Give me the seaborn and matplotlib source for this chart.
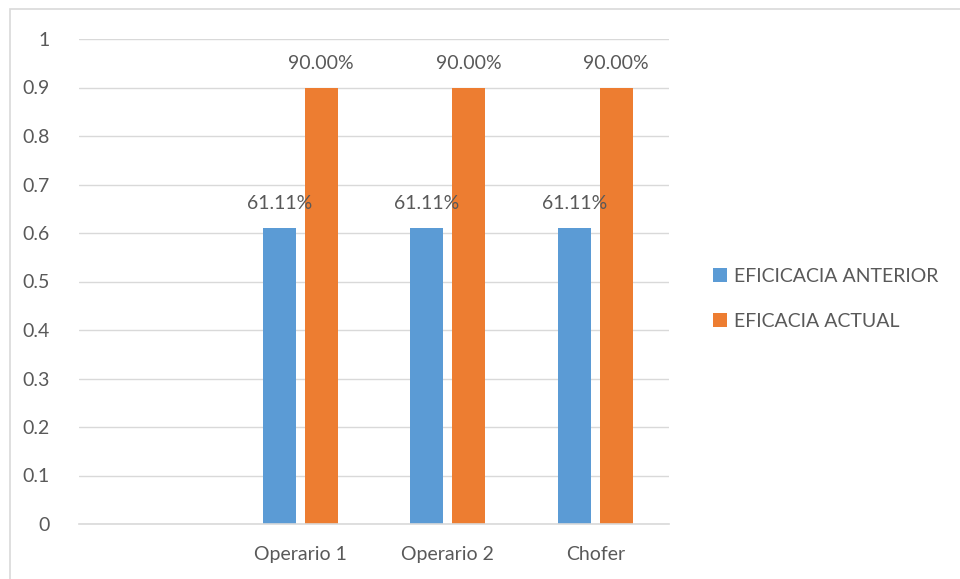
import numpy as np
import pandas as pd
import matplotlib
matplotlib.use("Agg")
import matplotlib.pyplot as plt
import seaborn as sns
from matplotlib.patches import Rectangle

categories = ["", "Operario 1", "Operario 2", "Chofer"]
anterior = [np.nan, 0.6111, 0.6111, 0.6111]
actual = [np.nan, 0.90, 0.90, 0.90]
series_names = ["EFICICACIA ANTERIOR", "EFICACIA ACTUAL"]
yticks = [0, 0.1, 0.2, 0.3, 0.4, 0.5, 0.6, 0.7, 0.8, 0.9, 1]
ytick_labels = ["0", "0.1", "0.2", "0.3", "0.4", "0.5", "0.6", "0.7", "0.8", "0.9", "1"]

df = pd.DataFrame({
    "cat": categories * 2,
    "serie": [series_names[0]] * 4 + [series_names[1]] * 4,
    "val": anterior + actual,
})

sns.set_theme(style="white")
plt.rcParams["font.family"] = ["Lato", "DejaVu Sans"]
txt = "#595959"

fig = plt.figure(figsize=(9.6, 5.79), dpi=100)
ax = fig.add_axes([79/960, 55/579, 590/960, 485/579])

sns.barplot(data=df, x="cat", y="val", hue="serie", order=categories,
            hue_order=series_names, palette=["#5B9BD5", "#ED7D31"],
            saturation=1, linewidth=0, width=0.57, gap=0.21, ax=ax, legend=True)

for cont in ax.containers:
    labels = [("" if np.isnan(v) else "{:.2%}".format(v)) for v in cont.datavalues]
    ax.bar_label(cont, labels=labels, padding=11, fontsize=14, color=txt)

ax.set_xlim(-0.5, 3.5)
ax.set_ylim(0, 1)
ax.set_yticks(yticks)
ax.set_yticklabels(ytick_labels)
ax.set_xlabel("")
ax.set_ylabel("")
ax.yaxis.grid(True, color="#D9D9D9", linewidth=1)
ax.set_axisbelow(True)
for s in ["top", "right", "left"]:
    ax.spines[s].set_visible(False)
ax.spines["bottom"].set_color("#D9D9D9")
ax.spines["bottom"].set_linewidth(1.2)
ax.tick_params(axis="both", length=0, labelsize=14, labelcolor=txt)
ax.tick_params(axis="y", pad=21)
ax.tick_params(axis="x", pad=16)

leg = ax.legend(loc="center left", bbox_to_anchor=(695/960, (579-299)/579),
                bbox_transform=fig.transFigure, frameon=False, fontsize=14,
                handlelength=0.75, handleheight=0.75, handletextpad=0.35,
                labelspacing=1.45)
for t in leg.get_texts():
    t.set_color(txt)

fig.patches.append(Rectangle((10/960, -0.1), 1.2, (579-9)/579 + 0.1,
                             transform=fig.transFigure, fill=False,
                             edgecolor="#D9D9D9", linewidth=1.2))

fig.savefig("out.png", dpi=100)
